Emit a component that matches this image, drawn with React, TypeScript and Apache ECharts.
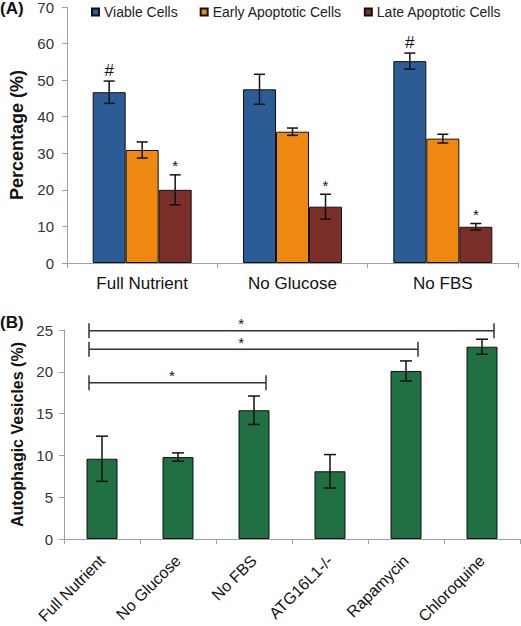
import React, { useEffect, useRef } from "react";
import * as echarts from "echarts";

// ---------- Panel A data ----------
const categoriesA = ["Full Nutrient", "No Glucose", "No FBS"];
const seriesNamesA = ["Viable Cells", "Early Apoptotic Cells", "Late Apoptotic Cells"];
const viableCells = [46.7, 47.5, 55.2];
const viableErr = [3.05, 4.1, 2.2];
const earlyApoptotic = [30.9, 35.9, 34.0];
const earlyErr = [2.2, 1.0, 1.2];
const lateApoptotic = [20.0, 15.4, 9.9];
const lateErr = [4.1, 3.4, 0.9];
const viableMarks = ["#", "", "#"];
const earlyMarks = ["", "", ""];
const lateMarks = ["*", "*", "*"];

// ---------- Panel B data ----------
const categoriesB = ["Full Nutrient", "No Glucose", "No FBS", "ATG16L1-/-", "Rapamycin", "Chloroquine"];
const vesicles = [9.6, 9.8, 15.4, 8.1, 20.1, 23.0];
const vesiclesErr = [2.7, 0.5, 1.7, 2.0, 1.2, 0.9];
const bracketFrom = [0, 0, 0];
const bracketTo = [2, 4, 5];
const bracketY = [18.7, 22.7, 24.9];
const bracketStarAt = [0.92, 1.83, 1.83];

const COLORS = ["#2b5c95", "#ee8811", "#7a2f2b"];
const GREEN = "#1f7043";
const FONT = "Liberation Sans";
const BAR_A = 33;
const BAR_B = 31;

export default function App() {
  const ref = useRef<HTMLDivElement>(null);

  useEffect(() => {
    if (!ref.current) return;
    const chart = echarts.init(ref.current, null, { renderer: "svg" });

    const valsA = [viableCells, earlyApoptotic, lateApoptotic];
    const errsA = [viableErr, earlyErr, lateErr];
    const marksA = [viableMarks, earlyMarks, lateMarks];
    const errDataA: number[][] = [];
    const errMarksA: string[] = [];
    valsA.forEach((vals, g) => {
      vals.forEach((v, i) => {
        errDataA.push([i, v, errsA[g][i], g]);
        errMarksA.push(marksA[g][i]);
      });
    });

    const errDataB = vesicles.map((v, i) => [i, v, vesiclesErr[i], 1]);
    const bracketData = bracketFrom.map((f, i) => [f, bracketTo[i], bracketY[i], bracketStarAt[i]]);

    const makeErrRender = (barW: number, marks: string[] | null, capW: number) =>
      (params: any, api: any) => {
        const x = api.value(0);
        const v = api.value(1);
        const e = api.value(2);
        const g = api.value(3);
        const hi = api.coord([x, v + e]);
        const lo = api.coord([x, v - e]);
        const cx = hi[0] + (g - 1) * barW;
        const st = { stroke: "#111", lineWidth: 1.5 };
        const children: any[] = [
          { type: "line", shape: { x1: cx, y1: hi[1], x2: cx, y2: lo[1] }, style: st },
          { type: "line", shape: { x1: cx - capW / 2, y1: hi[1], x2: cx + capW / 2, y2: hi[1] }, style: st },
          { type: "line", shape: { x1: cx - capW / 2, y1: lo[1], x2: cx + capW / 2, y2: lo[1] }, style: st },
        ];
        const m = marks ? marks[params.dataIndex] : "";
        if (m) {
          const isStar = m === "*";
          children.push({
            type: "text",
            style: {
              text: m,
              x: cx,
              y: hi[1] - (isStar ? 9 : 11),
              align: "center",
              verticalAlign: "middle",
              fontSize: isStar ? 15 : 17,
              fontFamily: FONT,
              fill: "#111",
            },
          });
        }
        return { type: "group", children };
      };

    const bracketRender = (params: any, api: any) => {
      const y = api.value(2);
      const pL = api.coord([api.value(0), y]);
      const pR = api.coord([api.value(1), y]);
      const p0 = api.coord([0, y]);
      const p1 = api.coord([1, y]);
      const sx = p0[0] + api.value(3) * (p1[0] - p0[0]);
      const xl = pL[0] - 13;
      const xr = pR[0] + 12;
      const st = { stroke: "#333", lineWidth: 1.5 };
      return {
        type: "group",
        children: [
          { type: "line", shape: { x1: xl, y1: pL[1], x2: xr, y2: pL[1] }, style: st },
          { type: "line", shape: { x1: xl, y1: pL[1] - 7.5, x2: xl, y2: pL[1] + 7.5 }, style: st },
          { type: "line", shape: { x1: xr, y1: pL[1] - 7.5, x2: xr, y2: pL[1] + 7.5 }, style: st },
          {
            type: "text",
            style: {
              text: "*",
              x: sx,
              y: pL[1] - 7,
              align: "center",
              verticalAlign: "middle",
              fontSize: 15,
              fontFamily: FONT,
              fill: "#111",
            },
          },
        ],
      };
    };

    const axisLineStyle = { lineStyle: { color: "#a0a0a0", width: 1 } };

    chart.setOption({
      animation: false,
      textStyle: { fontFamily: FONT },
      legend: {
        data: seriesNamesA,
        left: 86,
        top: 0,
        itemGap: 22,
        itemWidth: 7,
        itemHeight: 7,
        icon: "rect",
        textStyle: { fontSize: 14, color: "#222", fontFamily: FONT },
      },
      graphic: [
        { type: "text", left: 0, top: 0, style: { text: "(A)", fontSize: 17, fontWeight: "bold", fill: "#111", fontFamily: FONT } },
        { type: "text", left: 0, top: 314, style: { text: "(B)", fontSize: 17, fontWeight: "bold", fill: "#111", fontFamily: FONT } },
      ],
      grid: [
        { left: 67, right: 3, top: 7, height: 256, outerBoundsMode: "none" },
        { left: 64, right: 1, top: 330, height: 209, outerBoundsMode: "none" },
      ],
      xAxis: [
        {
          type: "category",
          gridIndex: 0,
          data: categoriesA,
          axisLine: axisLineStyle,
          axisTick: { show: true, length: 5, lineStyle: { color: "#a0a0a0" } },
          axisLabel: { fontSize: 17, color: "#111", margin: 12, fontFamily: FONT },
        },
        {
          type: "category",
          gridIndex: 1,
          data: categoriesB,
          axisLine: axisLineStyle,
          axisTick: { show: true, length: 5, lineStyle: { color: "#a0a0a0" } },
          axisLabel: { fontSize: 16, color: "#111", margin: 19, rotate: 45, interval: 0, fontFamily: FONT },
        },
      ],
      yAxis: [
        {
          type: "value",
          gridIndex: 0,
          min: 0,
          max: 70,
          interval: 10,
          name: "Percentage (%)",
          nameLocation: "middle",
          nameGap: 39,
          nameTextStyle: { fontSize: 18, fontWeight: "bold", color: "#111", fontFamily: FONT },
          axisLine: { show: true, ...axisLineStyle },
          axisTick: { show: true, length: 5, lineStyle: { color: "#a0a0a0" } },
          splitLine: { show: false },
          axisLabel: { fontSize: 15, color: "#333", margin: 13, fontFamily: FONT },
        },
        {
          type: "value",
          gridIndex: 1,
          min: 0,
          max: 25,
          interval: 5,
          name: "Autophagic Vesicles (%)",
          nameLocation: "middle",
          nameGap: 29,
          nameTextStyle: { fontSize: 16, fontWeight: "bold", color: "#111", fontFamily: FONT },
          axisLine: { show: true, ...axisLineStyle },
          axisTick: { show: true, length: 5, lineStyle: { color: "#a0a0a0" } },
          splitLine: { show: false },
          axisLabel: { fontSize: 15, color: "#333", margin: 11, fontFamily: FONT },
        },
      ],
      series: [
        ...valsA.map((vals, g) => ({
          name: seriesNamesA[g],
          type: "bar",
          xAxisIndex: 0,
          yAxisIndex: 0,
          data: vals,
          barWidth: BAR_A,
          barGap: "0%",
          itemStyle: { color: COLORS[g], borderColor: "#111", borderWidth: 1 },
        })),
        {
          type: "custom",
          xAxisIndex: 0,
          yAxisIndex: 0,
          data: errDataA,
          encode: { x: 0, y: 1 },
          renderItem: makeErrRender(BAR_A, errMarksA, 11),
          z: 5,
          clip: false,
        },
        {
          name: "Autophagic Vesicles",
          type: "bar",
          xAxisIndex: 1,
          yAxisIndex: 1,
          data: vesicles,
          barWidth: BAR_B,
          itemStyle: { color: GREEN, borderColor: "#111", borderWidth: 1 },
        },
        {
          type: "custom",
          xAxisIndex: 1,
          yAxisIndex: 1,
          data: errDataB,
          encode: { x: 0, y: 1 },
          renderItem: makeErrRender(0, null, 12),
          z: 5,
          clip: false,
        },
        {
          type: "custom",
          xAxisIndex: 1,
          yAxisIndex: 1,
          data: bracketData,
          encode: { x: [0, 1], y: 2 },
          renderItem: bracketRender,
          z: 5,
          clip: false,
        },
      ],
    });

    return () => chart.dispose();
  }, []);

  return (
    <div
      ref={ref}
      style={{ position: "absolute", left: 0, top: 0, width: 521, height: 626, background: "#fff" }}
    />
  );
}
